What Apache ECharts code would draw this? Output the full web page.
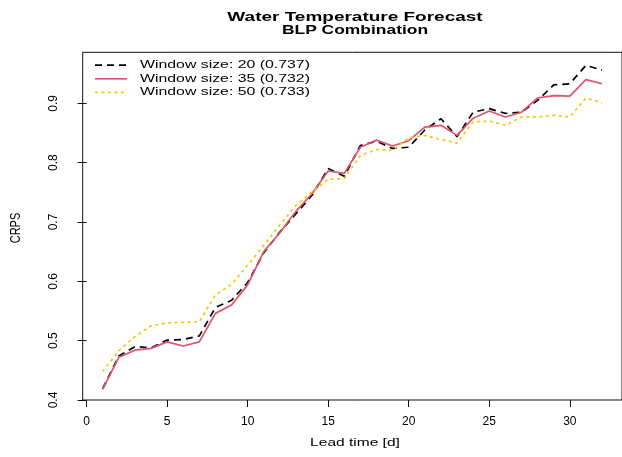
<!DOCTYPE html>
<html>
<head>
<meta charset="utf-8">
<script src="https://cdn.jsdelivr.net/npm/echarts@6/dist/echarts.min.js"></script>
<style>
  html, body { margin: 0; padding: 0; background: #ffffff; }
  #chart { width: 622px; height: 457px; }
</style>
</head>
<body>
<div id="chart"></div>
<script>
// Lead times in days
const leadTime = [1, 2, 3, 4, 5, 6, 7, 8, 9, 10, 11, 12, 13, 14, 15, 16,
                  17, 18, 19, 20, 21, 22, 23, 24, 25, 26, 27, 28, 29, 30, 31, 32];

// CRPS per lead time for each training window size
const window20 = [0.419, 0.474, 0.490, 0.488, 0.501, 0.502, 0.508, 0.556, 0.568, 0.598,
                  0.648, 0.683, 0.714, 0.745, 0.790, 0.777, 0.829, 0.836, 0.824, 0.826,
                  0.855, 0.874, 0.844, 0.885, 0.891, 0.883, 0.885, 0.905, 0.931, 0.933,
                  0.964, 0.956];
const window35 = [0.418, 0.472, 0.484, 0.487, 0.498, 0.491, 0.498, 0.546, 0.560, 0.594,
                  0.650, 0.682, 0.718, 0.748, 0.786, 0.782, 0.826, 0.838, 0.828, 0.837,
                  0.860, 0.863, 0.846, 0.875, 0.887, 0.877, 0.885, 0.909, 0.913, 0.912,
                  0.940, 0.933];
const window50 = [0.448, 0.483, 0.507, 0.525, 0.530, 0.531, 0.532, 0.577, 0.595, 0.627,
                  0.661, 0.695, 0.728, 0.751, 0.772, 0.773, 0.812, 0.822, 0.821, 0.842,
                  0.846, 0.839, 0.833, 0.869, 0.870, 0.863, 0.877, 0.877, 0.880, 0.877,
                  0.909, 0.901];

const seriesNames = ['Window size: 20 (0.737)', 'Window size: 35 (0.732)', 'Window size: 50 (0.733)'];
const xTicks = [0, 5, 10, 15, 20, 25, 30];
const yTicks = [0.4, 0.5, 0.6, 0.7, 0.8, 0.9];

const titleLines = ['Water Temperature Forecast', 'BLP Combination'];
const xLabel = 'Lead time [d]';
const yLabel = 'CRPS';

const FONT = '"Liberation Sans", Arial, Helvetica, sans-serif';
const colors = ['#000000', '#DF536B', '#F5C710'];
const dashes = [[7, 5], null, [3, 3.5]];
const LINE_W = 1.7;

const pairs = vals => leadTime.map((t, i) => [t, vals[i]]);
const allValues = [window20, window35, window50];

const series = allValues.map((vals, k) => ({
  name: seriesNames[k],
  type: 'line',
  data: pairs(vals),
  symbol: 'none',
  silent: true,
  lineStyle: {
    color: colors[k],
    width: LINE_W,
    type: dashes[k] ? dashes[k] : 'solid',
    cap: 'butt'
  }
}));

// Hand-built key in the upper-left corner of the plot box
const legendItems = [];
const rowY = [65.2, 78.8, 92.4];
seriesNames.forEach((name, k) => {
  legendItems.push({
    type: 'line',
    silent: true,
    shape: { x1: 95, y1: rowY[k], x2: 127, y2: rowY[k] },
    style: { stroke: colors[k], lineWidth: LINE_W, lineDash: dashes[k] || null }
  });
  legendItems.push({
    type: 'text',
    silent: true,
    x: 140, y: rowY[k],
    scaleX: 1.44,
    style: {
      text: name, fill: '#000', font: '11px ' + FONT,
      textAlign: 'left', textVerticalAlign: 'middle'
    }
  });
});

const chart = echarts.init(document.getElementById('chart'), null, { renderer: 'canvas' });
chart.setOption({
  animation: false,
  backgroundColor: '#ffffff',
  grid: {
    left: 82.7, right: -5.4, top: 52.3, bottom: 57,
    show: true, borderColor: '#111', borderWidth: 1, backgroundColor: 'transparent'
  },
  xAxis: {
    type: 'value',
    min: -0.24, max: 33.24,
    axisLine: { show: false },
    splitLine: { show: false },
    axisTick: { show: true, length: 7, customValues: xTicks, lineStyle: { color: '#111', width: 1 } },
    axisLabel: {
      customValues: xTicks, margin: 16, color: '#000',
      fontFamily: FONT, fontSize: 12
    }
  },
  yAxis: {
    type: 'value',
    min: 0.4, max: 0.986,
    axisLine: { show: false },
    splitLine: { show: false },
    axisTick: { show: true, length: 9, customValues: yTicks, lineStyle: { color: '#111', width: 1 } },
    axisLabel: {
      customValues: yTicks, rotate: 90, margin: 23, color: '#000',
      fontFamily: FONT, fontSize: 12,
      formatter: v => Number(v).toFixed(1)
    }
  },
  series: series,
  graphic: [
    {
      type: 'text', silent: true, x: 355, y: 17.5, scaleX: 1.46,
      style: { text: titleLines[0], fill: '#000', font: 'bold 13px ' + FONT,
               textAlign: 'center', textVerticalAlign: 'middle' }
    },
    {
      type: 'text', silent: true, x: 355, y: 30.8, scaleX: 1.34,
      style: { text: titleLines[1], fill: '#000', font: 'bold 13px ' + FONT,
               textAlign: 'center', textVerticalAlign: 'middle' }
    },
    {
      type: 'text', silent: true, x: 355, y: 442.5, scaleX: 1.35,
      style: { text: xLabel, fill: '#000', font: '11.5px ' + FONT,
               textAlign: 'center', textVerticalAlign: 'middle' }
    },
    {
      type: 'text', silent: true, x: 16, y: 228, rotation: Math.PI / 2, scaleY: 1.3,
      style: { text: yLabel, fill: '#000', font: '11px ' + FONT,
               textAlign: 'center', textVerticalAlign: 'middle' }
    }
  ].concat(legendItems)
});
</script>
</body>
</html>
